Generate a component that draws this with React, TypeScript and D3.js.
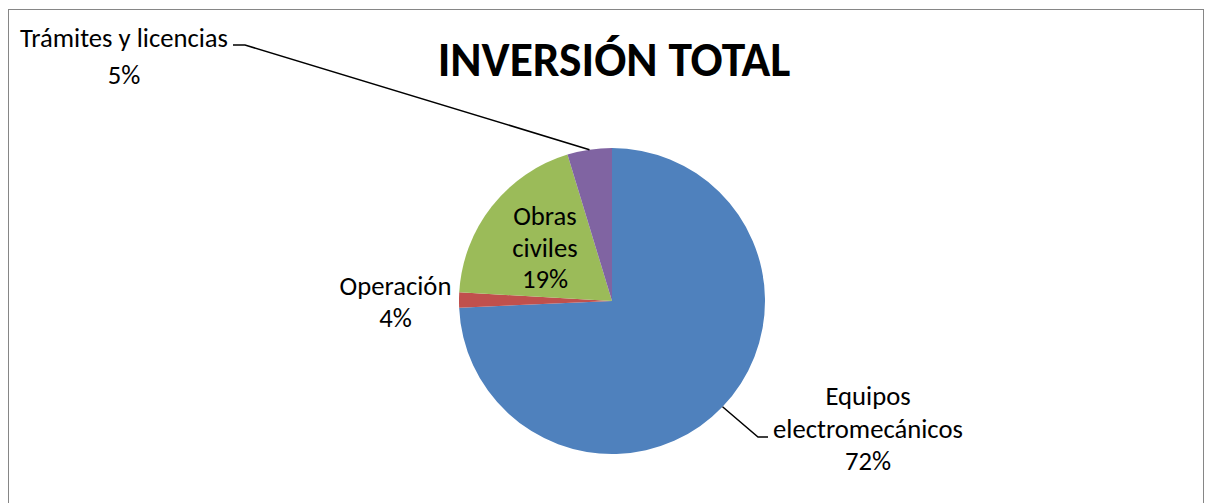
import React from "react";
import * as d3 from "d3";

const categories = ["Equipos electromecánicos", "Operación", "Obras civiles", "Trámites y licencias"];
const values = [74.3, 1.6, 19.4, 4.7];
const percentLabels = ["72%", "4%", "19%", "5%"];
const colors = ["#4F81BD", "#C0504D", "#9BBB59", "#8064A2"];
const title = "INVERSIÓN TOTAL";

const W = 1212;
const H = 503;
const cx = 612;
const cy = 301;
const R = 153;
const FONT = "Carlito, Calibri, Lato, sans-serif";
const FS = 26.67;

// label layout: lines (split category + percent), center x, first baseline, line spacing, leader elbow
const labelLayout = [
  { lines: ["Equipos", "electromecánicos"], x: 868, y: 405, dy: 32.5, elbow: [758, 437], end: [768, 437] },
  { lines: ["Operación"], x: 395.5, y: 295, dy: 32, elbow: null, end: null },
  { lines: ["Obras", "civiles"], x: 545, y: 225, dy: 31.5, elbow: null, end: null },
  { lines: ["Trámites y licencias"], x: 124, y: 47, dy: 37, elbow: [245, 45], end: [233, 45] },
];

export default function App() {
  const pie = d3.pie<number>().sort(null).startAngle(0).endAngle(2 * Math.PI);
  const arcs = pie(values);
  const arc = d3.arc<d3.PieArcDatum<number>>().innerRadius(0).outerRadius(R);
  const edge = d3.arc<d3.PieArcDatum<number>>().innerRadius(R).outerRadius(R);

  return (
    <svg width={W} height={H} style={{ position: "absolute", left: 0, top: 0, background: "#fff" }}>
      <rect x={8.5} y={9.5} width={1195} height={600} fill="#fff" stroke="#868686" strokeWidth={1} />
      <text x={614} y={76} textAnchor="middle" fontFamily={FONT} fontWeight="bold" fontSize={47.5} fill="#000">
        {title}
      </text>
      <g transform={`translate(${cx},${cy})`}>
        {arcs.map((a, i) => (
          <path key={i} d={arc(a) || ""} fill={colors[i]} stroke="none" />
        ))}
      </g>
      {arcs.map((a, i) => {
        const L = labelLayout[i];
        if (!L.elbow || !L.end) return null;
        const [px, py] = edge.centroid(a);
        const pts = [[cx + px, cy + py], L.elbow, L.end] as [number, number][];
        return (
          <path key={"l" + i} d={d3.line()(pts) || ""} fill="none" stroke="#000" strokeWidth={1.5} />
        );
      })}
      {arcs.map((a, i) => {
        const L = labelLayout[i];
        const lines = [...L.lines, percentLabels[i]];
        return (
          <text key={"t" + i} textAnchor="middle" fontFamily={FONT} fontSize={FS} fill="#000">
            {lines.map((ln, j) => (
              <tspan key={j} x={L.x} y={L.y + j * L.dy}>
                {ln}
              </tspan>
            ))}
          </text>
        );
      })}
    </svg>
  );
}
